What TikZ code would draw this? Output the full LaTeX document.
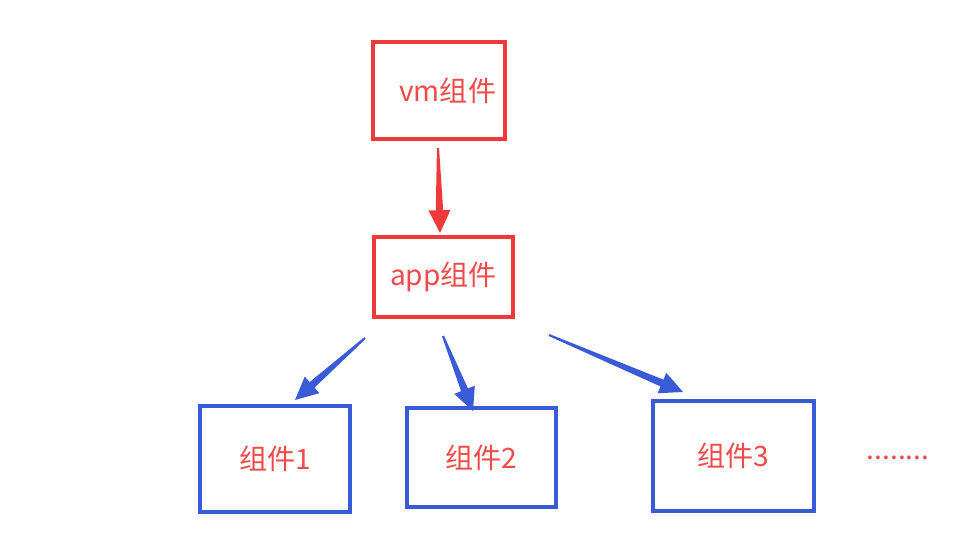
\documentclass[tikz,border=0pt]{standalone}
\usepackage{fontspec}
\setmainfont{Noto Sans CJK SC}
\usetikzlibrary{calc}
\definecolor{boxred}{HTML}{EE3A3A}
\definecolor{txtred}{HTML}{F24A4A}
\definecolor{boxblue}{HTML}{3A5BD8}
% tapered arrow: colour, from, to
\newcommand{\taparrow}[3]{%
  \coordinate (hb) at ($(#3)!13pt!(#2)$);
  \fill[#1] ($(#2)!0.6pt!90:(#3)$) -- ($(hb)!2.1pt!90:(#3)$)
    -- ($(hb)!6.3pt!90:(#3)$) -- (#3) -- ($(hb)!6.3pt!-90:(#3)$)
    -- ($(hb)!2.1pt!-90:(#3)$) -- ($(#2)!0.6pt!-90:(#3)$) -- cycle;
}

\begin{document}
\begin{tikzpicture}[
    x=0.02cm, y=-0.02cm,
    every node/.style={align=center, font=\fontsize{16}{19}\selectfont, text=txtred},
    redbox/.style={rectangle, draw=boxred, line width=1.9pt, inner sep=0pt},
    bluebox/.style={rectangle, draw=boxblue, line width=1.9pt, inner sep=0pt}
  ]
  \useasboundingbox (0,0) rectangle (956,541);

  \node[redbox, minimum width=2.64cm, minimum height=1.94cm] (vm) at (439,90.5)
    {\hspace*{0.35cm}vm组件};
  \node[redbox, minimum width=2.78cm, minimum height=1.6cm] (app) at (443.5,277)
    {app组件};

  \node[bluebox, minimum width=3.0cm, minimum height=2.12cm] (c1) at (275,459) {组件1};
  \node[bluebox, minimum width=2.98cm, minimum height=1.98cm] (c2) at (481.5,457.5) {组件2};
  \node[bluebox, minimum width=3.22cm, minimum height=2.2cm] (c3) at (733.5,456) {组件3};
  \node (more) at (898,458) {........};

  \coordinate (vm-out) at (438,148);
  \coordinate (app-in) at (440,233);
  \coordinate (app-out1) at (365,338);
  \coordinate (app-out2) at (443,336);
  \coordinate (app-out3) at (549,335);
  \coordinate (c1-in) at (295,400);
  \coordinate (c2-in) at (473,411);
  \coordinate (c3-in) at (683,392);

  \taparrow{boxred}{vm-out}{app-in}
  \taparrow{boxblue}{app-out1}{c1-in}
  \taparrow{boxblue}{app-out2}{c2-in}
  \taparrow{boxblue}{app-out3}{c3-in}
\end{tikzpicture}
\end{document}
